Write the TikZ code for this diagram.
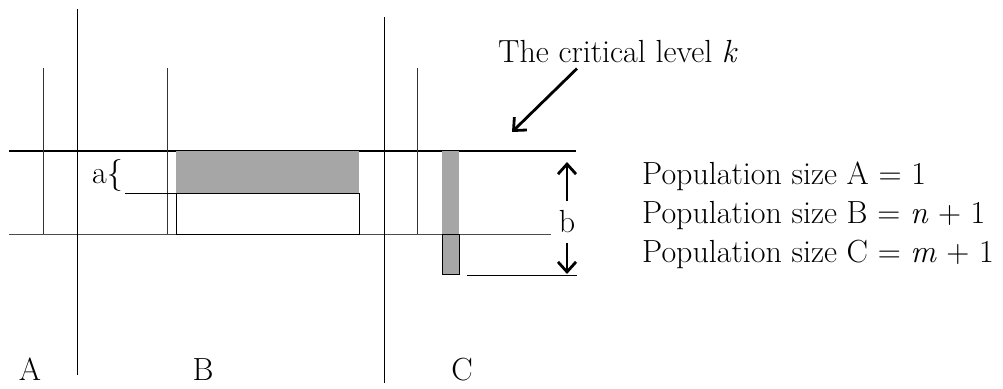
\documentclass[tikz,border=0pt]{standalone}
\usetikzlibrary{arrows.meta}
\tikzset{
  lbl/.style={font=\fontsize{32}{38}\selectfont, inner sep=0pt},
  barb/.style={line width=2.8pt, -{Straight Barb[length=10pt,width=18pt]}},
  popbar/.style={fill=black!35},
}
\begin{document}
\begin{tikzpicture}[x=1pt,y=-1pt]
\useasboundingbox (0,0) rectangle (1003,388);
% levels
\draw[line width=1.3pt] (9,151) -- (576,151);
\draw[black!70, line width=0.9pt] (9,234) -- (551,234);
\draw[line width=0.9pt] (467,275) -- (577,275);
% borders between the populations
\draw[line width=0.9pt] (77,9) -- (77,375);
\draw[line width=0.9pt] (384,17) -- (384,383);
\foreach \x in {43,167,417}
  \draw[black!80, line width=0.8pt] (\x,68) -- (\x,234);
% population B
\fill[popbar] (176,151) rectangle (359,193);
\draw[line width=0.8pt] (176,193) rectangle (359,234);
\node[lbl, anchor=base east] (a) at (123,183) {a\{};
\draw[line width=0.8pt] (125,193) -- (184,193);
% population C
\fill[popbar] (442,151) rectangle (459,234);
\draw[popbar, line width=0.8pt] (442,234) rectangle (459,274);
% labels
\node[lbl, anchor=base] (labA) at (30,380) {A};
\node[lbl, anchor=base] (labB) at (203,380) {B};
\node[lbl, anchor=base] (labC) at (462,380) {C};
% critical level
\node[lbl, anchor=base west] (crit) at (498,62) {The critical level \textit{k}};
\coordinate (critend) at (512,132);
\draw[barb] ([shift={(79pt,-6pt)}]crit.south west) -- (critend);
% distance b
\node[lbl, inner ysep=9.5pt] (b) at (567,222) {b};
\coordinate (btop) at (567,162);
\coordinate (bbot) at (567,274);
\draw[barb] (b.north) -- (btop);
\draw[barb] (b.south) -- (bbot);
% sizes
\node[lbl, anchor=base west] (popA) at (642,184) {Population size A = 1};
\node[lbl, anchor=base west] (popB) at (642,223) {Population size B = \textit{n} + 1};
\node[lbl, anchor=base west] (popC) at (642,262) {Population size C = \textit{m} + 1};
\end{tikzpicture}
\end{document}
